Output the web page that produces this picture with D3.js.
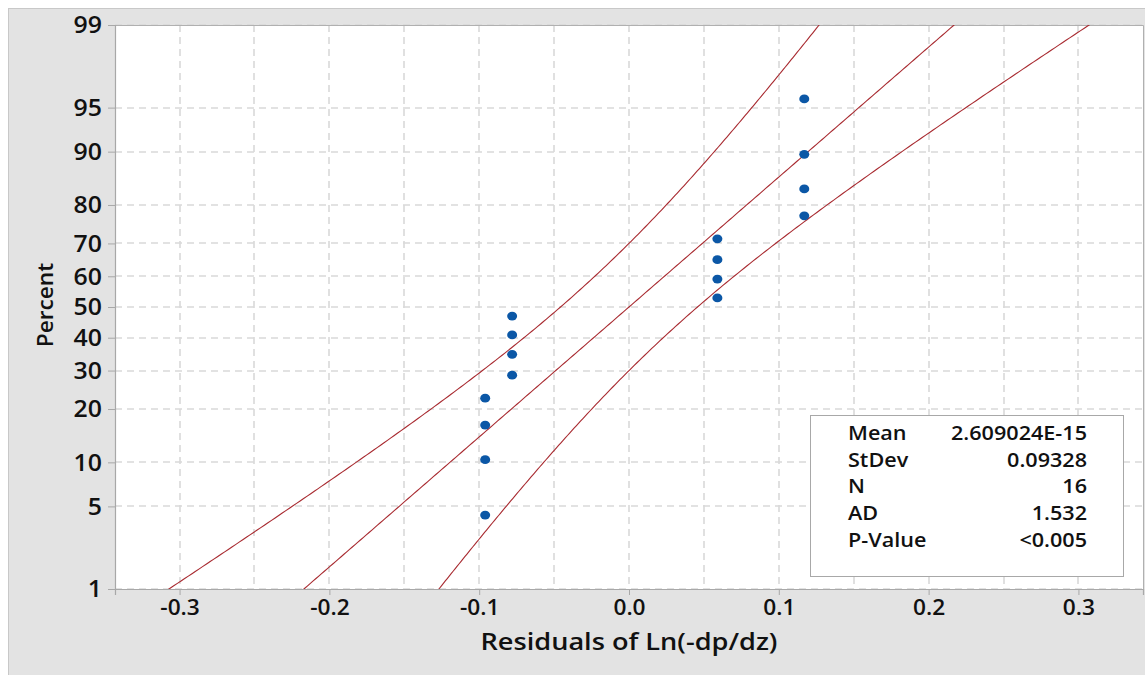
<!DOCTYPE html>
<html>
<head>
<meta charset="utf-8">
<script src="https://cdn.jsdelivr.net/npm/d3@7"></script>
<style>
  html, body { margin: 0; padding: 0; background: #ffffff; }
  svg { display: block; }
  text { font-family: "Open Sans", "DejaVu Sans", sans-serif; fill: #111; }
</style>
</head>
<body>
<svg id="chart" width="1145" height="675"></svg>
<script>
// Residuals (x) and their plotting percent (y)
const residuals = [-0.096, -0.096, -0.096, -0.096, -0.078, -0.078, -0.078, -0.078,
                   0.059, 0.059, 0.059, 0.059, 0.117, 0.117, 0.117, 0.117];
const percents = [4.3, 10.4, 16.5, 22.6, 28.7, 34.8, 40.9, 47.0,
                  53.0, 59.1, 65.2, 71.3, 77.4, 83.5, 89.6, 95.7];

// Axis ticks
const xTicks = [-0.3, -0.2, -0.1, 0.0, 0.1, 0.2, 0.3];
const xGrid = [-0.3, -0.25, -0.2, -0.15, -0.1, -0.05, 0, 0.05, 0.1, 0.15, 0.2, 0.25, 0.3];
const yTicks = [1, 5, 10, 20, 30, 40, 50, 60, 70, 80, 90, 95, 99];

// Summary statistics
const statLabels = ["Mean", "StDev", "N", "AD", "P-Value"];
const statValues = ["2.609024E-15", "0.09328", "16", "1.532", "<0.005"];
const mean = 2.609024e-15, stdev = 0.09328, n = 16;

// Inverse standard normal CDF (Acklam)
function probit(p) {
  const a = [-3.969683028665376e+01, 2.209460984245205e+02, -2.759285104469687e+02,
             1.383577518672690e+02, -3.066479806614716e+01, 2.506628277459239e+00];
  const b = [-5.447609879822406e+01, 1.615858368580409e+02, -1.556989798598866e+02,
             6.680131188771972e+01, -1.328068155288572e+01];
  const c = [-7.784894002430293e-03, -3.223964580411365e-01, -2.400758277161838e+00,
             -2.549671010266093e+00, 4.374664141464968e+00, 2.938163982698783e+00];
  const d = [7.784695709041462e-03, 3.224671290700398e-01, 2.445134137142996e+00,
             3.754408661907416e+00];
  const pl = 0.02425;
  let q, r;
  if (p < pl) {
    q = Math.sqrt(-2 * Math.log(p));
    return (((((c[0]*q+c[1])*q+c[2])*q+c[3])*q+c[4])*q+c[5]) / ((((d[0]*q+d[1])*q+d[2])*q+d[3])*q+1);
  } else if (p <= 1 - pl) {
    q = p - 0.5; r = q * q;
    return (((((a[0]*r+a[1])*r+a[2])*r+a[3])*r+a[4])*r+a[5])*q / (((((b[0]*r+b[1])*r+b[2])*r+b[3])*r+b[4])*r+1);
  } else {
    q = Math.sqrt(-2 * Math.log(1 - p));
    return -(((((c[0]*q+c[1])*q+c[2])*q+c[3])*q+c[4])*q+c[5]) / ((((d[0]*q+d[1])*q+d[2])*q+d[3])*q+1);
  }
}

const svg = d3.select("#chart");
const plot = { left: 115, top: 25, right: 1143, bottom: 589 };
const SX = 1.08; // horizontal text stretch

// Outer panel
svg.append("rect").attr("x", 8.5).attr("y", 8.5).attr("width", 1145).attr("height", 675)
  .attr("fill", "#e3e3e3").attr("stroke", "#c8c8c8");
svg.append("rect").attr("x", plot.left).attr("y", plot.top)
  .attr("width", plot.right - plot.left).attr("height", plot.bottom - plot.top)
  .attr("fill", "#ffffff");

// Scales
const x = d3.scaleLinear().domain([-0.3431, 0.3431]).range([plot.left, plot.right]);
const zLin = d3.scaleLinear().domain([probit(0.01), probit(0.99)]).range([plot.bottom, plot.top]);
function yScale(p) { return zLin(probit(p / 100)); }
yScale.range = () => zLin.range();
yScale.domain = () => [1, 99];
yScale.copy = () => yScale;

svg.append("clipPath").attr("id", "clip").append("rect")
  .attr("x", plot.left).attr("y", plot.top)
  .attr("width", plot.right - plot.left).attr("height", plot.bottom - plot.top);

// Gridlines
const grid = svg.append("g").attr("stroke", "#d9d9d9").attr("stroke-width", 1.6)
  .attr("stroke-dasharray", "7,5");
grid.selectAll("line.v").data(xGrid).join("line").attr("class", "v")
  .attr("x1", d => Math.round(x(d))).attr("x2", d => Math.round(x(d)))
  .attr("y1", plot.top).attr("y2", plot.bottom);
grid.selectAll("line.h").data(yTicks).join("line").attr("class", "h")
  .attr("x1", plot.left).attr("x2", plot.right)
  .attr("y1", d => Math.round(yScale(d))).attr("y2", d => Math.round(yScale(d)));

// Plot frame (top / right)
svg.append("path")
  .attr("d", `M${plot.left},${plot.top + 0.5}H${plot.right + 0.5}V${plot.bottom}`)
  .attr("fill", "none").attr("stroke", "#b0b0b0");

// Fitted line and 95% confidence band
const zs = d3.range(-3.2, 3.2001, 0.02);
const t = 1.96;
const half = z => t * stdev * Math.sqrt(1 / n + z * z / (2 * (n - 1)));
const curves = [
  zs.map(z => [mean + stdev * z - half(z), z]),
  zs.map(z => [mean + stdev * z, z]),
  zs.map(z => [mean + stdev * z + half(z), z])
];
const lineGen = d3.line().x(d => x(d[0])).y(d => zLin(d[1]));
svg.append("g").attr("clip-path", "url(#clip)")
  .selectAll("path").data(curves).join("path")
  .attr("d", lineGen).attr("fill", "none")
  .attr("stroke", "#a82a30").attr("stroke-width", 1.1);

// Points
svg.append("g").selectAll("ellipse").data(residuals).join("ellipse")
  .attr("cx", (d) => x(d)).attr("cy", (d, i) => yScale(percents[i]))
  .attr("rx", 5).attr("ry", 4.4).attr("fill", "#0b57a6");

// Axes
const xAxis = svg.append("g").attr("transform", `translate(0,${plot.bottom})`)
  .call(d3.axisBottom(x).tickValues(xTicks).tickFormat(d3.format(".1f")).tickSizeOuter(0).tickSize(6).tickPadding(6));
const yAxis = svg.append("g").attr("transform", `translate(${plot.left},0)`)
  .call(d3.axisLeft(yScale).tickValues(yTicks).tickFormat(d => d).tickSizeOuter(0).tickSize(7).tickPadding(7));

[xAxis, yAxis].forEach(g => {
  g.select(".domain").attr("stroke", "#a8a8a8").attr("stroke-width", 1.2);
  g.selectAll(".tick line").attr("stroke", "#a8a8a8");
  g.selectAll(".tick text").attr("fill", "#111");
});
xAxis.selectAll(".tick text")
  .style("font-size", "21px").style("font-weight", 600).attr("y", 0).attr("dy", 0)
  .attr("transform", `translate(0,26) scale(${SX},1)`)
  .text(d => d3.format(".1f")(d).replace("\u2212", "-"));
yAxis.selectAll(".tick text")
  .style("font-size", "23px").style("font-weight", 600).attr("x", 0).attr("dy", "0.34em")
  .attr("transform", `translate(-13,0) scale(${SX},1)`);

// Axis titles
svg.append("text")
  .attr("transform", `translate(629,650) scale(1.18,1)`)
  .attr("text-anchor", "middle").style("font-size", "23px").style("font-weight", 600)
  .text("Residuals of Ln(-dp/dz)");
svg.append("text")
  .attr("transform", `translate(53,305) rotate(-90) scale(${SX},1)`)
  .attr("text-anchor", "middle").style("font-size", "21px").style("font-weight", 600)
  .text("Percent");

// Statistics box
const box = svg.append("g");
box.append("rect").attr("x", 810.5).attr("y", 415.5).attr("width", 313).attr("height", 161)
  .attr("fill", "#ffffff").attr("stroke", "#a8a8a8");
statLabels.forEach((lab, i) => {
  const yb = 440 + i * 26.7;
  box.append("text").attr("transform", `translate(848,${yb}) scale(${SX},1)`)
    .style("font-size", "20px").style("font-weight", 600).text(lab);
  box.append("text").attr("transform", `translate(1087,${yb}) scale(${SX},1)`)
    .attr("text-anchor", "end").style("font-size", "20px").style("font-weight", 600)
    .text(statValues[i]);
});
</script>
</body>
</html>
